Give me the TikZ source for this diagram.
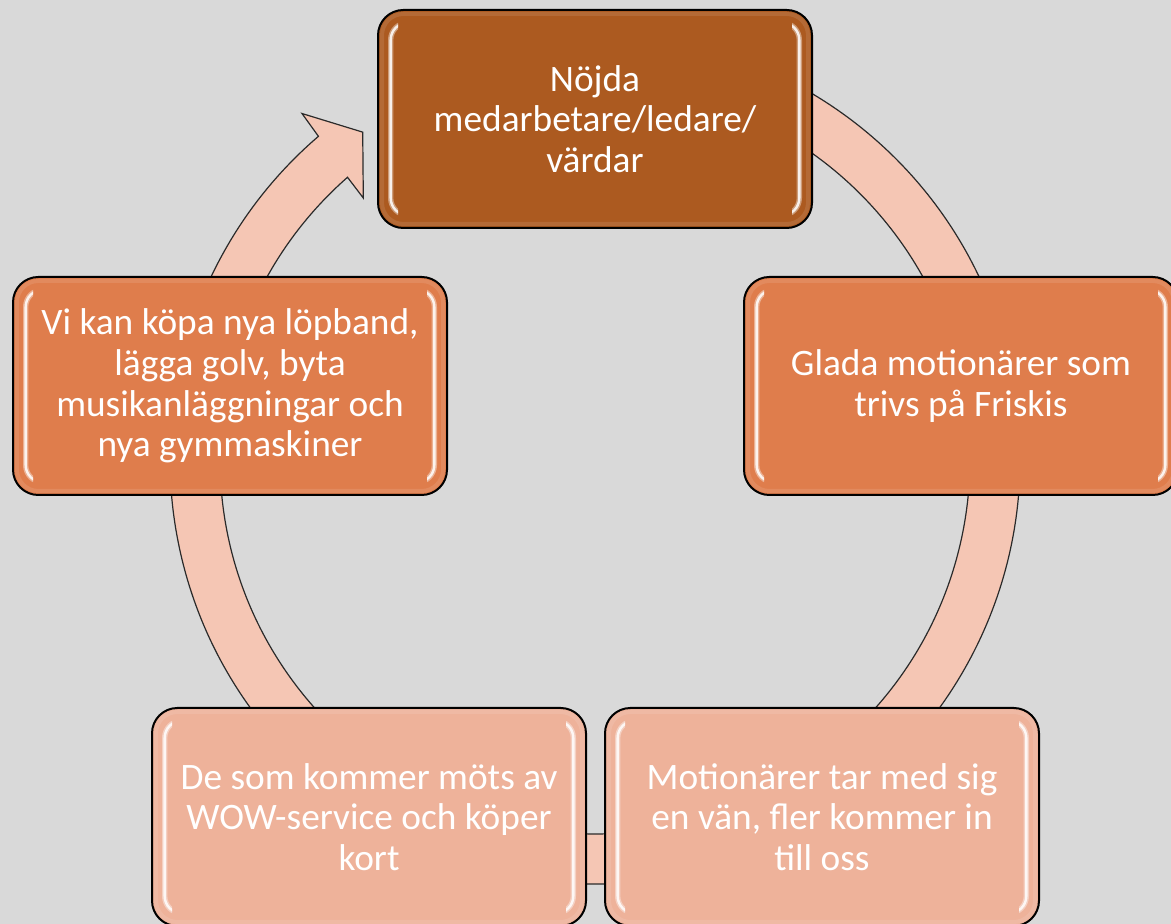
\documentclass[tikz,border=0pt]{standalone}
\usepackage{fontspec}
\setmainfont{Carlito}
\definecolor{bg}{HTML}{D9D9D9}
\definecolor{ringc}{HTML}{F5C6B4}
\definecolor{ringline}{HTML}{2A2A2A}
\definecolor{cA}{HTML}{AC5A20}
\definecolor{cB}{HTML}{DF7D4C}
\definecolor{cC}{HTML}{EEB29A}
\newcommand\bevelbox[1]{%
  \draw[white, opacity=.1, line width=3pt, rounded corners=16pt]
    ([shift={(3pt,3pt)}]#1.south west) rectangle ([shift={(-3pt,-3pt)}]#1.north east);
  \begin{scope}
    \clip (#1.south west) rectangle ([xshift=15pt]#1.north west);
    \draw[white, opacity=.4, line width=4pt, rounded corners=13pt]
      ([shift={(9.5pt,9.5pt)}]#1.south west) rectangle ([shift={(-9.5pt,-9.5pt)}]#1.north east);
    \draw[white, opacity=.85, line width=1.8pt, rounded corners=13pt]
      ([shift={(9.5pt,9.5pt)}]#1.south west) rectangle ([shift={(-9.5pt,-9.5pt)}]#1.north east);
  \end{scope}
  \begin{scope}
    \clip ([xshift=-15pt]#1.south east) rectangle (#1.north east);
    \draw[white, opacity=.4, line width=4pt, rounded corners=13pt]
      ([shift={(9.5pt,9.5pt)}]#1.south west) rectangle ([shift={(-9.5pt,-9.5pt)}]#1.north east);
    \draw[white, opacity=.85, line width=1.8pt, rounded corners=13pt]
      ([shift={(9.5pt,9.5pt)}]#1.south west) rectangle ([shift={(-9.5pt,-9.5pt)}]#1.north east);
  \end{scope}}
\begin{document}
\begin{tikzpicture}[x=0.75pt,y=0.75pt,
  box/.style={draw=black, line width=1.5pt, rounded corners=19pt,
    minimum width=325.5pt, minimum height=163.5pt, outer sep=0pt, inner sep=0pt,
    align=center, text=white, font=\fontsize{28}{30.5}\selectfont},
  ringshape/.style={fill=ringc, draw=ringline, line width=0.9pt, line join=miter}]
\useasboundingbox (0,0) rectangle (1171,924);
\clip (0,0) rectangle (1171,924);
\fill[bg] (0,0) rectangle (1171,924);
% circular arrow
\begin{scope}[shift={(595,465)}]
  \path[ringshape] (100:425) arc[start angle=100, end angle=-229.4, radius=425]
    -- (-229.7:453) -- (-234.6:401) -- (-228.4:349) -- (-228.7:375)
    arc[start angle=-228.7, end angle=100, radius=375] -- cycle;
\end{scope}
% boxes
\node[box, fill=cA] (n1) at (595,805) {Nöjda\\medarbetare/ledare/\\värdar};
\node[box, fill=cB] (n2) at (961,538) {Glada motionärer som\\trivs på Friskis};
\node[box, fill=cC] (n3) at (822,107) {Motionärer tar med sig\\en vän, fler kommer in\\till oss};
\node[box, fill=cC] (n4) at (369,107) {De som kommer möts av\\WOW-service och köper\\kort};
\node[box, fill=cB] (n5) at (230,538) {Vi kan köpa nya löpband,\\lägga golv, byta\\musikanläggningar och\\nya gymmaskiner};
\bevelbox{n1}\bevelbox{n2}\bevelbox{n3}\bevelbox{n4}\bevelbox{n5}
\end{tikzpicture}
\end{document}
